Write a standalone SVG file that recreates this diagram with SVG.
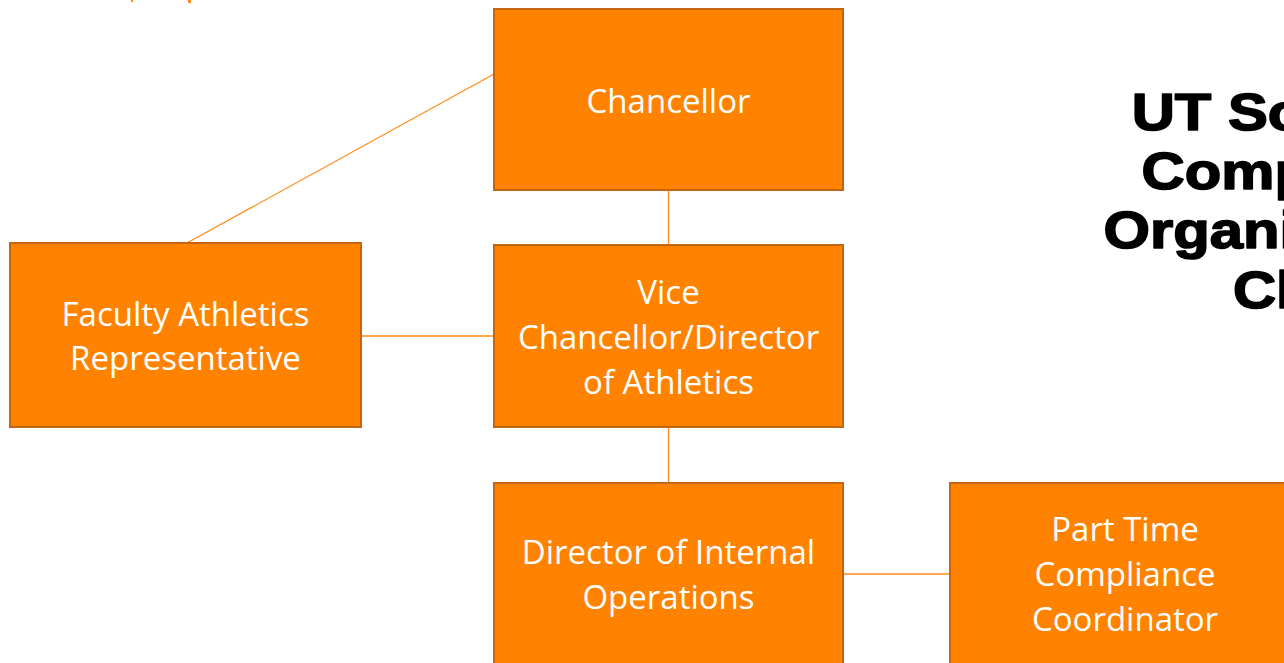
<svg xmlns="http://www.w3.org/2000/svg" width="1284" height="663" viewBox="0 0 1284 663">
  <style>
    .box { fill: #FF8300; stroke: #C5650F; stroke-width: 2; }
    .lbl { font-family: "Open Sans", "Noto Sans", "DejaVu Sans", sans-serif; font-size: 33px; fill: #FFFFFF; text-anchor: middle; }
    .title { font-family: "Liberation Sans", Arial, sans-serif; font-weight: bold; font-size: 52px; fill: #000000; stroke: #000000; stroke-width: 1.6; stroke-linejoin: round; text-anchor: middle; }
    .link { stroke: #FF8C1A; stroke-width: 1.3; fill: none; }
  </style>
  <rect width="1284" height="663" fill="#FFFFFF"/>

  <!-- edge fragments at top-left -->
  <g id="corner-marks" fill="#FF8C1A">
    <rect x="131" y="0" width="2" height="2"/>
    <rect x="188" y="0" width="3" height="3"/>
  </g>

  <!-- connectors -->
  <g id="connectors" class="link">
    <line x1="494" y1="74" x2="187" y2="243"/>
    <line x1="668.5" y1="191" x2="668.5" y2="245"/>
    <line x1="361" y1="336" x2="494" y2="336"/>
    <line x1="668.5" y1="428" x2="668.5" y2="483"/>
    <line x1="843" y1="574" x2="950" y2="574"/>
  </g>

  <g id="chancellor">
    <rect class="box" x="494" y="9" width="349" height="181"/>
    <text class="lbl" x="668.5" y="113">Chancellor</text>
  </g>

  <g id="vice-chancellor">
    <rect class="box" x="494" y="245" width="349" height="182"/>
    <text class="lbl" x="668.5" y="304">Vice</text>
    <text class="lbl" x="668.5" y="349">Chancellor/Director</text>
    <text class="lbl" x="668.5" y="394">of Athletics</text>
  </g>

  <g id="faculty-rep">
    <rect class="box" x="10" y="243" width="351" height="184"/>
    <text class="lbl" x="185.5" y="326">Faculty Athletics</text>
    <text class="lbl" x="185.5" y="370">Representative</text>
  </g>

  <g id="internal-operations">
    <rect class="box" x="494" y="483" width="349" height="190"/>
    <text class="lbl" x="668.5" y="564">Director of Internal</text>
    <text class="lbl" x="668.5" y="609">Operations</text>
  </g>

  <g id="compliance-coordinator">
    <rect class="box" x="950" y="483" width="350" height="190"/>
    <text class="lbl" x="1125" y="541">Part Time</text>
    <text class="lbl" x="1125" y="586">Compliance</text>
    <text class="lbl" x="1125" y="631">Coordinator</text>
  </g>

  <!-- heavy, widened title block, centred on x = 1311 -->
  <g id="title" transform="translate(1311 0) scale(1.15 1)">
    <text class="title" x="0" y="130">UT Southern</text>
    <text class="title" x="0" y="189">Compliance</text>
    <text class="title" x="0" y="248">Organizational</text>
    <text class="title" x="0" y="308">Chart</text>
  </g>
</svg>
